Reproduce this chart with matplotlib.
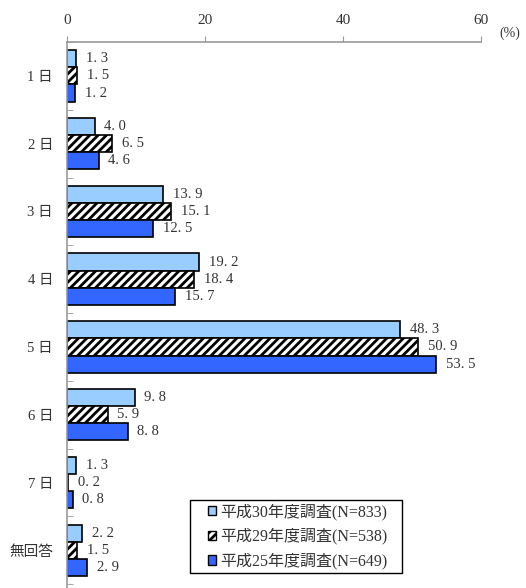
import matplotlib.pyplot as plt
from matplotlib.patches import Patch, Rectangle
import numpy as np

plt.rcParams['font.family'] = ['Liberation Serif', 'Noto Sans CJK JP']
plt.rcParams['hatch.linewidth'] = 2.0

categories = ['1 日', '2 日', '3 日', '4 日', '5 日', '6 日', '7 日', '無回答']
series_names = ['平成30年度調査(N=833)', '平成29年度調査(N=538)', '平成25年度調査(N=649)']
h30 = [1.3, 4.0, 13.9, 19.2, 48.3, 9.8, 1.3, 2.2]
h29 = [1.5, 6.5, 15.1, 18.4, 50.9, 5.9, 0.2, 1.5]
h25 = [1.2, 4.6, 12.5, 15.7, 53.5, 8.8, 0.8, 2.9]
xticks = [0, 20, 40, 60]

W, H = 526, 588
fig = plt.figure(figsize=(W / 100, H / 100), dpi=100)
ax = fig.add_axes([67/W, 0, (481-67)/W, 1 - 42/H])

y = np.arange(len(categories))
bh = 0.253
styles = [
    dict(color='#99CCFF', hatch=None),
    dict(color='white', hatch='////'),
    dict(color='#3366FF', hatch=None),
]
for i, (vals, st) in enumerate(zip([h30, h29, h25], styles)):
    pos = y + (i - 1) * bh
    ax.barh(pos, vals, height=bh, color=st['color'], hatch=st['hatch'],
            edgecolor='black', linewidth=1.2)
    for p, v in zip(pos, vals):
        ax.text(v + 1.4, p, f'{v:.1f}'.replace('.', '. '), va='center', ha='left',
                fontsize=10.5, color='#333333')

ax.set_xlim(0, 60)
ax.set_ylim(7.556, -0.44)
ax.xaxis.tick_top()
ax.set_xticks(xticks)
ax.tick_params(axis='x', length=4, color='#999999', labelsize=11, labelcolor='#333333', pad=7)
ax.set_yticks(y)
ax.set_yticklabels(categories, fontsize=10.5, color='#333333')
ax.tick_params(axis='y', length=0, pad=10)
ax.set_yticks(np.arange(len(categories) + 1) - 0.5, minor=True)
ax.tick_params(axis='y', which='minor', direction='in', length=4, color='#999999')
for s in ['right', 'bottom']:
    ax.spines[s].set_visible(False)
for s in ['top', 'left']:
    ax.spines[s].set_color('#999999')
    ax.spines[s].set_linewidth(1.2)

fig.text(510/W, 1 - 33/H, '(%)', fontsize=10, color='#333333', ha='center', va='center')

# legend frame drawn separately, legend itself frameless
fig.patches.append(Rectangle((190/W, 1 - 573/H), 212/W, 73/H, transform=fig.transFigure,
                             facecolor='white', edgecolor='black', linewidth=1.0, zorder=3))
handles = [Patch(facecolor=st['color'], hatch=st['hatch'], edgecolor='black') for st in styles]
leg = fig.legend(handles, series_names, loc='center left', bbox_to_anchor=(208/W, 1 - 536.5/H),
                 frameon=False, handlelength=0.5, handleheight=0.5, handletextpad=0.25,
                 labelspacing=0.5, borderpad=0, borderaxespad=0,
                 prop={'family': ['Liberation Serif', 'Noto Sans CJK JP'], 'size': 11.5})
leg.set_zorder(4)
for t in leg.get_texts():
    t.set_color('#333333')

fig.savefig('out.png', dpi=100)
